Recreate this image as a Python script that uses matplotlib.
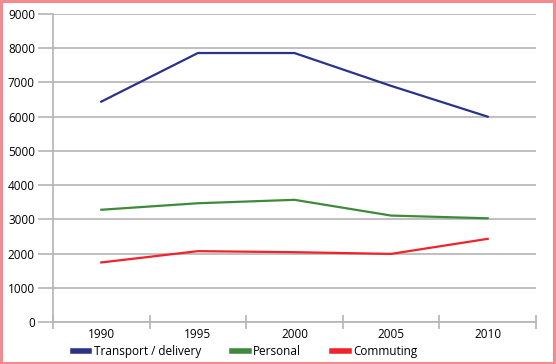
import numpy as np
import matplotlib
matplotlib.use('Agg')
import matplotlib.pyplot as plt
from matplotlib.patches import Rectangle

# ── data ────────────────────────────────────────────────────────────────────
years = ['1990', '1995', '2000', '2005', '2010']
transport = [6440, 7860, 7860, 6900, 6000]
personal = [3280, 3470, 3570, 3110, 3030]
commuting = [1740, 2070, 2040, 1990, 2430]

COLORS = dict(transport='#2b3288', personal='#3f8a3a', commuting='#f2222b')
GRID = '#b4b4b4'

plt.rcParams['font.family'] = ['Open Sans', 'DejaVu Sans']

fig = plt.figure(figsize=(5.56, 3.64), dpi=100)
ax = fig.add_axes([0.0953, 0.1154, 0.8687, 0.8461])

x = np.arange(len(years))
ax.plot(x, transport, color=COLORS['transport'], lw=1.6, label='Transport / delivery')
ax.plot(x, personal, color=COLORS['personal'], lw=1.6, label='Personal')
ax.plot(x, commuting, color=COLORS['commuting'], lw=1.6, label='Commuting')

ax.set_ylim(0, 9000)
ax.set_xlim(-0.5, len(years) - 0.5)
ax.set_yticks(np.arange(0, 9001, 1000))
ax.yaxis.grid(True, color=GRID, lw=1.2)
ax.set_axisbelow(True)

# category separators as major ticks, labels on minor ticks
ax.set_xticks(np.arange(-0.5, len(years), 1.0))
ax.set_xticklabels([])
ax.set_xticks(x, minor=True)
ax.set_xticklabels(years, minor=True)
ax.tick_params(axis='x', which='major', direction='inout', length=10,
               color=GRID, width=1.2)
ax.tick_params(axis='x', which='minor', length=0, pad=4.5, labelsize=8.5)
ax.tick_params(axis='y', direction='out', length=11, color=GRID, width=1.2,
               pad=2, labelsize=8.5)

for side in ['top', 'right']:
    ax.spines[side].set_visible(False)
for side in ['left', 'bottom']:
    ax.spines[side].set_color(GRID)
    ax.spines[side].set_linewidth(1.2)

leg = fig.legend(loc='lower left', bbox_to_anchor=(0.112, -0.014), ncol=3,
                 frameon=False, fontsize=8.5, handlelength=1.4,
                 handletextpad=0.4, columnspacing=2.6)
for h in leg.legend_handles:
    h.set_linewidth(4)

# pink frame round the figure
fig.patches.append(Rectangle((0.002, 0.003), 0.994, 0.994, transform=fig.transFigure,
                             fill=False, edgecolor='#f28b8f', lw=2.2))

fig.savefig('out.png', dpi=100)
